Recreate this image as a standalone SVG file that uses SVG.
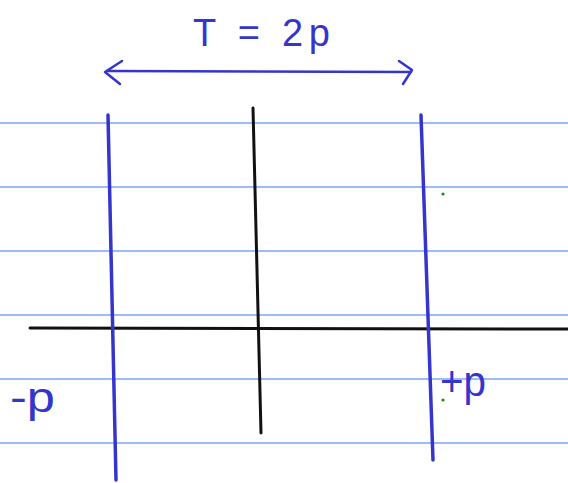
<svg xmlns="http://www.w3.org/2000/svg" width="568" height="483" viewBox="0 0 568 483">
<style>
.rule{stroke:#78a8ec;stroke-width:1.3}
.pen{stroke:#3535cc;stroke-width:3.5;fill:none;stroke-linecap:round;stroke-linejoin:round}
.thin{stroke-width:2.5}
.ink{stroke:#111;stroke-width:3;fill:none;stroke-linecap:round}
.hand{font-family:"Liberation Sans",sans-serif;fill:#3535cc;font-weight:normal}
.dot{fill:#1a8a1a}
</style>
<rect width="568" height="483" fill="#fff"/>
<g id="paper-lines">
<line class="rule" x1="0" y1="123" x2="568" y2="123"/>
<line class="rule" x1="0" y1="187" x2="568" y2="187"/>
<line class="rule" x1="0" y1="251" x2="568" y2="251"/>
<line class="rule" x1="0" y1="315" x2="568" y2="315"/>
<line class="rule" x1="0" y1="379" x2="568" y2="379"/>
<line class="rule" x1="0" y1="443" x2="568" y2="443"/>
</g>
<g id="axes">
<line class="ink" x1="30" y1="328" x2="568" y2="329"/>
<line class="ink" x1="253" y1="108" x2="261" y2="433"/>
</g>
<g id="bounds">
<line class="pen" x1="108" y1="115" x2="116" y2="480"/>
<line class="pen" x1="421" y1="115" x2="433" y2="460"/>
</g>
<g id="period-arrow">
<line class="pen thin" x1="107" y1="71" x2="411" y2="72"/>
<polyline class="pen thin" points="122,61 105,72 120,84"/>
<polyline class="pen thin" points="399,61 412,70 403,84"/>
</g>
<g id="labels">
<text class="hand" x="193" y="46" font-size="38" textLength="137" lengthAdjust="spacing">T = 2p</text>
<text class="hand" x="10" y="412" font-size="42" textLength="45" lengthAdjust="spacingAndGlyphs">-p</text>
<text class="hand" x="440" y="396" font-size="42" textLength="46" lengthAdjust="spacingAndGlyphs">+p</text>
</g>
<circle class="dot" cx="443" cy="194" r="1.6"/>
<circle class="dot" cx="443" cy="400" r="1.6"/>
</svg>
